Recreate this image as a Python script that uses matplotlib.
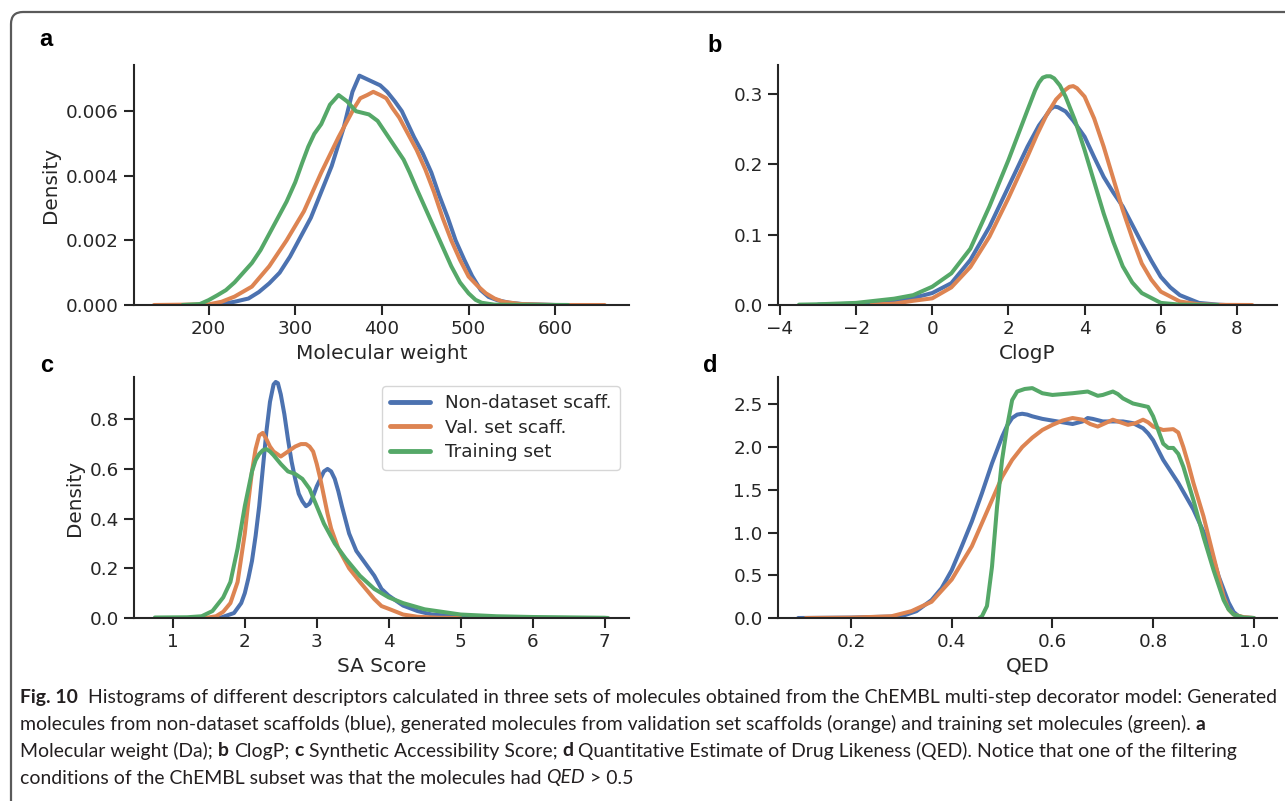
import matplotlib
matplotlib.use("Agg")
import matplotlib.pyplot as plt
import matplotlib.patches as mpatches
import matplotlib.transforms as mtransforms
import numpy as np

# ---------------- data ----------------
series_names = ["Non-dataset scaff.", "Val. set scaff.", "Training set"]
colors = ["#4C72B0", "#DD8452", "#55A868"]

# (a) Molecular weight
mw_blue_x = [200, 215, 230, 246, 258, 270, 282, 294, 306, 318, 330, 342, 356, 366, 374, 382, 390, 398, 406, 415, 423, 430, 437, 447, 457, 466, 476, 485, 495, 504, 514, 523, 533, 547, 562, 600, 614]
mw_blue_y = [0.0, 0.00003, 0.0001, 0.0002, 0.0004, 0.00067, 0.0010, 0.0015, 0.0021, 0.0027, 0.0035, 0.0043, 0.0055, 0.0066, 0.0071, 0.0070, 0.0069, 0.0068, 0.0066, 0.0063, 0.0060, 0.0056, 0.0052, 0.0047, 0.0041, 0.0034, 0.0027, 0.0020, 0.0014, 0.0009, 0.00046, 0.00025, 0.00015, 0.00007, 0.00003, 0.0, 0.0]
mw_orange_x = [137, 200, 215, 230, 250, 270, 290, 310, 330, 350, 360, 368, 375, 383, 390, 398, 405, 412, 420, 430, 440, 450, 460, 470, 480, 490, 500, 510, 520, 530, 540, 560, 600, 657]
mw_orange_y = [0.0, 0.00002, 0.0001, 0.00026, 0.00057, 0.0012, 0.0020, 0.0029, 0.0041, 0.0052, 0.0057, 0.0061, 0.0064, 0.0065, 0.0066, 0.0065, 0.0064, 0.0061, 0.0058, 0.0053, 0.0048, 0.0042, 0.0035, 0.0027, 0.0020, 0.0014, 0.00088, 0.0006, 0.00036, 0.0002, 0.0001, 0.00003, 0.0, 0.0]
mw_green_x = [170, 190, 200, 210, 220, 230, 240, 250, 260, 270, 280, 290, 300, 308, 315, 322, 330, 340, 350, 355, 360, 370, 385, 395, 405, 415, 425, 432, 440, 450, 460, 470, 480, 490, 500, 508, 515, 530, 615]
mw_green_y = [0.0, 0.00003, 0.00015, 0.0003, 0.00046, 0.0007, 0.0010, 0.0013, 0.0017, 0.0022, 0.0027, 0.0032, 0.0038, 0.0044, 0.0049, 0.0053, 0.0056, 0.0062, 0.0065, 0.0064, 0.0063, 0.0060, 0.0059, 0.0057, 0.0053, 0.0049, 0.0045, 0.0041, 0.0036, 0.0030, 0.0024, 0.0018, 0.0012, 0.0007, 0.00036, 0.00016, 0.00007, 0.00001, 0.0]

# (b) ClogP
lp_blue_x = [-3.0, -2.0, -1.0, -0.5, 0.0, 0.5, 1.0, 1.5, 2.0, 2.5, 2.8, 3.0, 3.1, 3.2, 3.3, 3.5, 3.7, 4.0, 4.25, 4.5, 4.75, 5.0, 5.25, 5.5, 5.75, 6.0, 6.25, 6.5, 7.0, 7.5, 7.7]
lp_blue_y = [0.0005, 0.002, 0.006, 0.010, 0.017, 0.031, 0.064, 0.111, 0.168, 0.225, 0.255, 0.270, 0.278, 0.282, 0.281, 0.275, 0.262, 0.239, 0.210, 0.182, 0.160, 0.140, 0.114, 0.088, 0.063, 0.040, 0.025, 0.014, 0.003, 0.0005, 0.0]
lp_orange_x = [-1.6, -1.0, -0.5, 0.0, 0.5, 1.0, 1.5, 2.0, 2.5, 2.75, 3.0, 3.25, 3.5, 3.6, 3.7, 3.8, 4.0, 4.25, 4.5, 4.75, 5.0, 5.25, 5.5, 5.75, 6.0, 6.5, 7.0, 7.5, 8.4]
lp_orange_y = [0.0005, 0.002, 0.006, 0.0095, 0.025, 0.054, 0.097, 0.152, 0.211, 0.242, 0.270, 0.292, 0.306, 0.310, 0.311, 0.308, 0.296, 0.265, 0.225, 0.180, 0.135, 0.095, 0.059, 0.036, 0.019, 0.005, 0.001, 0.0002, 0.0]
lp_green_x = [-3.5, -3.0, -2.0, -1.0, -0.5, 0.0, 0.5, 1.0, 1.5, 2.0, 2.5, 2.7, 2.8, 2.9, 3.0, 3.1, 3.2, 3.35, 3.5, 3.75, 4.0, 4.25, 4.5, 4.75, 5.0, 5.25, 5.5, 6.0, 6.5, 7.5]
lp_green_y = [0.0005, 0.001, 0.003, 0.009, 0.014, 0.026, 0.045, 0.080, 0.140, 0.206, 0.277, 0.305, 0.316, 0.323, 0.325, 0.325, 0.322, 0.312, 0.296, 0.262, 0.220, 0.175, 0.130, 0.090, 0.055, 0.032, 0.017, 0.003, 0.0005, 0.0]

# (c) SA score
sa_blue_x = [1.65, 1.85, 1.95, 2.0, 2.05, 2.1, 2.15, 2.2, 2.25, 2.3, 2.35, 2.4, 2.43, 2.46, 2.5, 2.55, 2.6, 2.65, 2.7, 2.75, 2.8, 2.85, 2.9, 2.95, 3.0, 3.05, 3.1, 3.15, 3.2, 3.25, 3.3, 3.35, 3.45, 3.55, 3.7, 3.8, 3.9, 4.0, 4.2, 4.4, 4.6, 5.0, 5.5, 6.0, 6.5]
sa_blue_y = [0.0, 0.02, 0.06, 0.10, 0.16, 0.23, 0.33, 0.45, 0.60, 0.75, 0.87, 0.94, 0.95, 0.945, 0.90, 0.82, 0.72, 0.63, 0.56, 0.50, 0.47, 0.45, 0.46, 0.49, 0.53, 0.56, 0.59, 0.60, 0.59, 0.56, 0.51, 0.45, 0.34, 0.27, 0.21, 0.17, 0.117, 0.09, 0.05, 0.028, 0.014, 0.006, 0.002, 0.0005, 0.0]
sa_orange_x = [1.45, 1.6, 1.7, 1.8, 1.9, 2.0, 2.05, 2.1, 2.15, 2.2, 2.25, 2.3, 2.35, 2.4, 2.5, 2.6, 2.7, 2.78, 2.85, 2.9, 2.95, 3.0, 3.05, 3.1, 3.15, 3.2, 3.3, 3.45, 3.6, 3.8, 3.9, 4.0, 4.2, 4.4, 4.7, 5.0]
sa_orange_y = [0.0, 0.007, 0.025, 0.06, 0.145, 0.34, 0.47, 0.59, 0.68, 0.735, 0.745, 0.72, 0.69, 0.67, 0.65, 0.67, 0.69, 0.70, 0.70, 0.69, 0.67, 0.62, 0.56, 0.49, 0.42, 0.36, 0.28, 0.20, 0.145, 0.076, 0.048, 0.037, 0.014, 0.005, 0.001, 0.0]
sa_green_x = [0.75, 1.2, 1.4, 1.55, 1.7, 1.8, 1.9, 2.0, 2.1, 2.15, 2.2, 2.25, 2.3, 2.35, 2.4, 2.5, 2.6, 2.7, 2.8, 2.9, 3.0, 3.1, 3.25, 3.4, 3.6, 3.8, 4.0, 4.2, 4.5, 5.0, 5.5, 6.0, 7.0, 7.05]
sa_green_y = [0.002, 0.003, 0.007, 0.028, 0.083, 0.145, 0.28, 0.45, 0.59, 0.635, 0.66, 0.675, 0.68, 0.67, 0.655, 0.62, 0.59, 0.58, 0.56, 0.52, 0.45, 0.38, 0.30, 0.24, 0.17, 0.117, 0.083, 0.06, 0.035, 0.014, 0.007, 0.004, 0.001, 0.0]

# (d) QED
qed_blue_x = [0.095, 0.2, 0.3, 0.33, 0.36, 0.38, 0.40, 0.42, 0.44, 0.46, 0.48, 0.50, 0.51, 0.52, 0.53, 0.54, 0.55, 0.56, 0.58, 0.60, 0.62, 0.64, 0.66, 0.67, 0.68, 0.70, 0.72, 0.74, 0.76, 0.78, 0.79, 0.80, 0.82, 0.85, 0.88, 0.91, 0.93, 0.95, 0.96, 0.97, 0.98, 1.0]
qed_blue_y = [0.0, 0.005, 0.02, 0.08, 0.21, 0.35, 0.56, 0.84, 1.13, 1.46, 1.81, 2.12, 2.25, 2.34, 2.38, 2.39, 2.38, 2.36, 2.33, 2.31, 2.29, 2.27, 2.30, 2.34, 2.33, 2.30, 2.30, 2.30, 2.28, 2.22, 2.16, 2.08, 1.85, 1.58, 1.27, 0.88, 0.49, 0.18, 0.07, 0.02, 0.005, 0.0]
qed_orange_x = [0.11, 0.2, 0.28, 0.32, 0.36, 0.40, 0.44, 0.48, 0.50, 0.52, 0.54, 0.56, 0.58, 0.60, 0.62, 0.64, 0.66, 0.675, 0.69, 0.705, 0.72, 0.735, 0.75, 0.765, 0.78, 0.79, 0.80, 0.82, 0.84, 0.85, 0.86, 0.87, 0.88, 0.90, 0.92, 0.94, 0.95, 0.96, 0.98, 1.0]
qed_orange_y = [0.0, 0.004, 0.02, 0.08, 0.19, 0.45, 0.84, 1.38, 1.65, 1.85, 2.00, 2.11, 2.20, 2.26, 2.31, 2.34, 2.32, 2.27, 2.24, 2.28, 2.32, 2.29, 2.26, 2.28, 2.32, 2.29, 2.24, 2.20, 2.21, 2.17, 2.00, 1.80, 1.58, 1.19, 0.72, 0.25, 0.10, 0.04, 0.01, 0.0]
qed_green_x = [0.455, 0.46, 0.47, 0.48, 0.49, 0.50, 0.51, 0.52, 0.53, 0.545, 0.56, 0.58, 0.60, 0.62, 0.64, 0.67, 0.69, 0.70, 0.72, 0.73, 0.74, 0.76, 0.79, 0.80, 0.81, 0.82, 0.83, 0.84, 0.85, 0.86, 0.88, 0.90, 0.92, 0.94, 0.95, 0.96, 0.98, 1.0]
qed_green_y = [0.0, 0.02, 0.14, 0.60, 1.30, 1.85, 2.24, 2.55, 2.65, 2.68, 2.69, 2.63, 2.61, 2.62, 2.63, 2.65, 2.60, 2.61, 2.65, 2.62, 2.57, 2.51, 2.47, 2.36, 2.20, 2.04, 1.99, 1.99, 1.92, 1.77, 1.38, 0.95, 0.56, 0.21, 0.10, 0.04, 0.005, 0.0]

panel_letters = ["a", "b", "c", "d"]
x_labels = ["Molecular weight", "ClogP", "SA Score", "QED"]
x_ticks = [[200, 300, 400, 500, 600], [-4, -2, 0, 2, 4, 6, 8], [1, 2, 3, 4, 5, 6, 7], [0.2, 0.4, 0.6, 0.8, 1.0]]
y_ticks = [[0.000, 0.002, 0.004, 0.006], [0.0, 0.1, 0.2, 0.3], [0.0, 0.2, 0.4, 0.6, 0.8], [0.0, 0.5, 1.0, 1.5, 2.0, 2.5]]
y_fmt = ["{:.3f}", "{:.1f}", "{:.1f}", "{:.1f}"]
x_fmt = ["{:d}", "{:d}", "{:d}", "{:.1f}"]

caption_lines = [
    [("Fig. 10", "bold", "normal"), ("  Histograms of different descriptors calculated in three sets of molecules obtained from the ChEMBL multi-step decorator model: Generated", "normal", "normal")],
    [("molecules from non-dataset scaffolds (blue), generated molecules from validation set scaffolds (orange) and training set molecules (green). ", "normal", "normal"), ("a", "bold", "normal")],
    [("Molecular weight (Da); ", "normal", "normal"), ("b", "bold", "normal"), (" ClogP; ", "normal", "normal"), ("c", "bold", "normal"),
     (" Synthetic Accessibility Score; ", "normal", "normal"), ("d", "bold", "normal"),
     (" Quantitative Estimate of Drug Likeness (QED). Notice that one of the filtering", "normal", "normal")],
    [("conditions of the ChEMBL subset was that the molecules had ", "normal", "normal"), ("QED", "normal", "italic"), (" > 0.5", "normal", "normal")],
]

# ---------------- figure ----------------
W, H = 1285, 801
fig = plt.figure(figsize=(W / 100, H / 100), dpi=100)
fig.patch.set_facecolor("white")

def fx(px):
    return px / W

def fy(py):
    return 1 - py / H

# axes positions (left, top, right, bottom) in pixels
boxes = [(134, 65, 629, 305), (778, 65, 1277, 305), (134, 377, 629, 618), (778, 377, 1277, 618)]
xlims = [(114, 685), (-4.05, 9.05), (0.46, 7.34), (0.055, 1.046)]
ylims = [(0, 0.00743), (0, 0.341), (0, 0.97), (0, 2.82)]
letter_pos = [(46, 40), (715, 45), (47, 365), (710, 365)]

data = [
    [(mw_blue_x, mw_blue_y), (mw_orange_x, mw_orange_y), (mw_green_x, mw_green_y)],
    [(lp_blue_x, lp_blue_y), (lp_orange_x, lp_orange_y), (lp_green_x, lp_green_y)],
    [(sa_blue_x, sa_blue_y), (sa_orange_x, sa_orange_y), (sa_green_x, sa_green_y)],
    [(qed_blue_x, qed_blue_y), (qed_orange_x, qed_orange_y), (qed_green_x, qed_green_y)],
]

dark = "#262626"
for i, (l, t, r, b) in enumerate(boxes):
    ax = fig.add_axes([fx(l), fy(b), fx(r - l), (b - t) / H])
    for (xs, ys), c, name in zip(data[i], colors, series_names):
        ax.plot(xs, ys, color=c, lw=2.9, label=name, solid_capstyle="round", solid_joinstyle="round")
    ax.set_xlim(*xlims[i])
    ax.set_ylim(*ylims[i])
    ax.set_xticks(x_ticks[i])
    ax.set_xticklabels([x_fmt[i].format(v).replace("-", "\u2212") for v in x_ticks[i]])
    ax.set_yticks(y_ticks[i])
    ax.set_yticklabels([y_fmt[i].format(v) for v in y_ticks[i]])
    for s in ["top", "right"]:
        ax.spines[s].set_visible(False)
    for s in ["left", "bottom"]:
        ax.spines[s].set_linewidth(1.5)
        ax.spines[s].set_color(dark)
    ax.tick_params(axis="both", labelsize=13.2, length=7, width=1.5, color=dark, labelcolor=dark, pad=4)
    ax.set_xlabel(x_labels[i], fontsize=14.4, color=dark, labelpad=4)
    if i in (0, 2):
        ax.set_ylabel("Density", fontsize=14.4, color=dark)
    if i == 2:
        leg = ax.legend(loc="upper right", fontsize=13.2, frameon=True, fancybox=True,
                        handlelength=2.2, borderpad=0.45, labelspacing=0.35)
        leg.get_frame().set_edgecolor("#cccccc")
        leg.get_frame().set_linewidth(1.0)
        for line in leg.get_lines():
            line.set_linewidth(3.5)
        for txt in leg.get_texts():
            txt.set_color(dark)
    lx, ly = letter_pos[i]
    fig.text(fx(lx), fy(ly), panel_letters[i], fontsize=17, fontweight="bold",
             family="Liberation Sans", ha="center", va="center", color="black")

# frame around the figure (open at the right and bottom like the reference)
frame = mpatches.FancyBboxPatch((11, -40), 1400, (H - 12) + 40, boxstyle="round,pad=0,rounding_size=12",
                                transform=mtransforms.IdentityTransform(), fill=False,
                                edgecolor="#5a5a5a", linewidth=1.6)
fig.patches.append(frame)

# ---------------- caption ----------------
renderer = fig.canvas.get_renderer()
cap_font = "Lato"
cap_color = "#231f20"

def text_width(s, fs, weight, style):
    t = fig.text(0, 0, s, fontsize=fs, fontweight=weight, fontstyle=style, family=cap_font,
                 transform=mtransforms.IdentityTransform())
    w = t.get_window_extent(renderer).width
    t.remove()
    return w

def seg_width(s, fs, weight, style):
    core = s.strip(" ")
    lead = len(s) - len(s.lstrip(" "))
    trail = len(s) - len(s.rstrip(" "))
    sp = text_width("a a", fs, weight, style) - text_width("aa", fs, weight, style)
    return (text_width(core, fs, weight, style) if core else 0) + (lead + trail) * sp, lead * sp

def line_width(segs, fs):
    return sum(seg_width(s, fs, w, st)[0] for s, w, st in segs)

target_w = 1258
fs0 = 10.0
cap_fs = fs0 * target_w / line_width(caption_lines[0], fs0)

cap_x0 = 20
cap_ys = [697, 724, 751, 778]
for segs, ypx in zip(caption_lines, cap_ys):
    x = cap_x0
    for s, w, st in segs:
        total, lead = seg_width(s, cap_fs, w, st)
        core = s.strip(" ")
        if core:
            fig.text(x + lead, H - ypx, core, fontsize=cap_fs, fontweight=w, fontstyle=st,
                     family=cap_font, color=cap_color, va="center", ha="left",
                     transform=mtransforms.IdentityTransform())
        x += total

fig.savefig("out.png", dpi=100)
